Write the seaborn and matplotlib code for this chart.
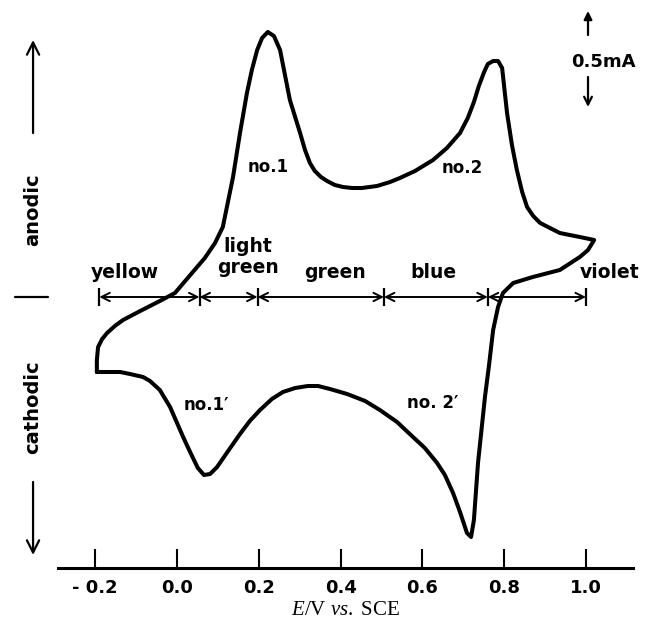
import matplotlib
matplotlib.use('Agg')
import matplotlib.pyplot as plt
import pandas as pd
import seaborn as sns

# cyclic voltammogram traced once round the loop: anodic sweep, then cathodic
potential = [-0.196, -0.196, -0.193, -0.183, -0.171, -0.152, -0.132, -0.090, -0.042, -0.005,
             0.022, 0.068, 0.093, 0.112, 0.137, 0.154, 0.171, 0.183, 0.196, 0.208,
             0.222, 0.237, 0.252, 0.276, 0.301, 0.313, 0.325, 0.337, 0.352, 0.367,
             0.386, 0.406, 0.428, 0.452, 0.489, 0.521, 0.545, 0.582, 0.626, 0.660,
             0.692, 0.711, 0.726, 0.738, 0.751, 0.760, 0.773, 0.785, 0.795, 0.807,
             0.819, 0.831, 0.844, 0.856, 0.871, 0.888, 0.936, 0.985, 1.020,
             1.005, 0.985, 0.936, 0.870, 0.822, 0.797, 0.785, 0.773, 0.763, 0.753,
             0.736, 0.726, 0.719, 0.709, 0.692, 0.675, 0.655, 0.636, 0.606, 0.577,
             0.538, 0.496, 0.460, 0.416, 0.374, 0.345, 0.320, 0.289, 0.259, 0.232,
             0.203, 0.178, 0.154, 0.125, 0.098, 0.081, 0.066, 0.051, 0.032, 0.015,
             -0.017, -0.042, -0.066, -0.083, -0.115, -0.139, -0.196]
current = [-0.375, -0.315, -0.250, -0.210, -0.180, -0.145, -0.115, -0.070, -0.020, 0.020,
           0.085, 0.195, 0.270, 0.350, 0.600, 0.820, 1.020, 1.135, 1.235, 1.295,
           1.325, 1.305, 1.235, 0.985, 0.820, 0.735, 0.670, 0.630, 0.600, 0.580,
           0.560, 0.550, 0.545, 0.545, 0.555, 0.575, 0.595, 0.630, 0.685, 0.745,
           0.820, 0.895, 0.975, 1.055, 1.125, 1.165, 1.180, 1.180, 1.145, 0.920,
           0.760, 0.635, 0.525, 0.450, 0.405, 0.370, 0.320, 0.300, 0.285,
           0.235, 0.200, 0.135, 0.100, 0.070, 0.020, -0.050, -0.165, -0.340, -0.500,
           -0.830, -1.115, -1.200, -1.180, -1.075, -0.980, -0.890, -0.830, -0.755, -0.700,
           -0.625, -0.565, -0.520, -0.485, -0.460, -0.445, -0.445, -0.455, -0.475, -0.510,
           -0.565, -0.620, -0.685, -0.770, -0.850, -0.885, -0.890, -0.855, -0.775, -0.700,
           -0.550, -0.465, -0.420, -0.400, -0.385, -0.375, -0.375]

tick_values = [-0.2, 0.0, 0.2, 0.4, 0.6, 0.8, 1.0]
tick_labels = ['- 0.2', '0.0', '0.2', '0.4', '0.6', '0.8', '1.0']

# colour of the film over each potential range
band_edges = [-0.19, 0.055, 0.197, 0.506, 0.76, 1.0]
band_names = ['yellow', 'light\ngreen', 'green', 'blue', 'violet']
band_text_x = [-0.127, 0.174, 0.386, 0.626, 0.985]

peak_names = ['no.1', 'no.2', 'no.1\u2032', 'no. 2\u2032']
peak_text_x = [0.222, 0.697, 0.073, 0.626]
peak_text_y = [0.65, 0.645, -0.54, -0.53]

df = pd.DataFrame({'E': potential, 'I': current})

sns.set_theme(style='white')
plt.rcParams['font.family'] = ['DejaVu Sans']
plt.rcParams['text.color'] = 'black'
plt.rcParams['xtick.color'] = 'black'
plt.rcParams['axes.labelcolor'] = 'black'
plt.rcParams['mathtext.fontset'] = 'custom'
plt.rcParams['mathtext.rm'] = 'Liberation Serif'
plt.rcParams['mathtext.it'] = 'Liberation Serif:italic'

fig = plt.figure(figsize=(6.49, 6.27), dpi=100)
ax = fig.add_axes([58 / 649, 59 / 627, 575 / 649, 568 / 627])

sns.lineplot(data=df, x='E', y='I', sort=False, estimator=None, color='black',
             lw=2.9, ax=ax, solid_joinstyle='round', solid_capstyle='round')

ax.set_xlim(-0.291, 1.115)
ax.set_ylim(-1.355, 1.485)

for s in ['left', 'right', 'top']:
    ax.spines[s].set_visible(False)
ax.spines['bottom'].set_linewidth(2.2)
ax.spines['bottom'].set_color('black')
ax.set_yticks([])
ax.set_xticks(tick_values)
ax.set_xticklabels(tick_labels, fontsize=13, fontweight='bold')
ax.tick_params(axis='x', bottom=True, direction='in', length=14, width=1.5,
               color='black', pad=8, labelcolor='black')
ax.set_xlabel(r'$E$/V $vs.$ SCE', fontsize=15, family='Liberation Serif',
              labelpad=3, color='black')
ax.set_ylabel('')

# colour ranges along the zero-current line
bar_h = 0.045
for a, b in zip(band_edges[:-1], band_edges[1:]):
    ax.annotate('', xy=(a, 0), xytext=(b, 0),
                arrowprops=dict(arrowstyle='<->', lw=1.4, color='black',
                                mutation_scale=15, shrinkA=0, shrinkB=0))
ax.vlines(band_edges, -bar_h, bar_h, color='black', lw=1.6)
for name, x in zip(band_names, band_text_x):
    ha = 'left' if name == 'violet' else 'center'
    top = 0.30 if '\n' in name else 0.17
    ax.text(x, top, name, ha=ha, va='top', fontsize=13.5, fontweight='bold',
            linespacing=1.15, clip_on=False, color='black')

for name, x, y in zip(peak_names, peak_text_x, peak_text_y):
    ax.text(x, y, name, ha='center', va='center', fontsize=12, fontweight='bold',
            color='black')

# anodic / cathodic direction marks in the left margin
ax.plot([-0.396, -0.315], [0, 0], color='black', lw=1.6, clip_on=False)
ax.annotate('', xy=(-0.352, 1.285), xytext=(-0.352, 0.82), annotation_clip=False,
            arrowprops=dict(arrowstyle='->', lw=1.6, color='black', mutation_scale=22,
                            shrinkA=0, shrinkB=0))
ax.annotate('', xy=(-0.352, -1.29), xytext=(-0.352, -0.925), annotation_clip=False,
            arrowprops=dict(arrowstyle='->', lw=1.6, color='black', mutation_scale=22,
                            shrinkA=0, shrinkB=0))
ax.text(-0.352, 0.435, 'anodic', rotation=90, ha='center', va='center',
        fontsize=14, fontweight='bold', clip_on=False, color='black')
ax.text(-0.352, -0.55, 'cathodic', rotation=90, ha='center', va='center',
        fontsize=14, fontweight='bold', clip_on=False, color='black')

# current scale bar
ax.annotate('', xy=(1.005, 1.43), xytext=(1.005, 1.31), annotation_clip=False,
            arrowprops=dict(arrowstyle='-|>', lw=1.6, color='black', mutation_scale=12,
                            shrinkA=0, shrinkB=0))
ax.annotate('', xy=(1.005, 0.95), xytext=(1.005, 1.10), annotation_clip=False,
            arrowprops=dict(arrowstyle='->', lw=1.6, color='black', mutation_scale=14,
                            shrinkA=0, shrinkB=0))
ax.text(1.042, 1.175, '0.5mA', ha='center', va='center', fontsize=13,
        fontweight='bold', clip_on=False, color='black')

fig.savefig('out.png', dpi=100)
